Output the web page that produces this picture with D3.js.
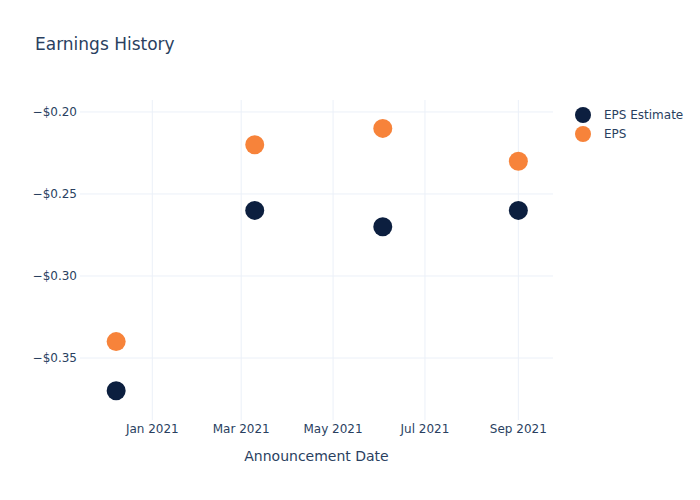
<!DOCTYPE html>
<html><head><meta charset="utf-8">
<script src="https://cdn.jsdelivr.net/npm/d3@7"></script>
<style>body{margin:0;background:#fff}svg{font-family:"DejaVu Sans",Verdana,sans-serif}</style>
</head><body><svg id="c" width="700" height="500"></svg>
<script>
const dates = ["2020-12-08","2021-03-10","2021-06-03","2021-09-01"];
const epsEstimate = [-0.37,-0.26,-0.27,-0.26];
const eps = [-0.34,-0.22,-0.21,-0.23];
const yTicks = [-0.20,-0.25,-0.30,-0.35];
const xTicks = ["2021-01-01","2021-03-01","2021-05-01","2021-07-01","2021-09-01"];
const seriesNames = ["EPS Estimate","EPS"];
const colors = ["#0c1f3f","#f7833a"];

const parse = d3.utcParse("%Y-%m-%d");
const svg = d3.select("#c");
const L=80,R=553,T=100,B=420;
const x = d3.scaleUtc().domain([parse("2020-11-14"),parse("2021-09-24")]).range([L,R]);
const y = d3.scaleLinear().domain([-0.3878,-0.1927]).range([B,T]);
const txt="#2a3f5f", grid="#ebf0f8";

const g = svg.append("g");
g.selectAll(".xg").data(xTicks).join("line").attr("x1",d=>x(parse(d))).attr("x2",d=>x(parse(d)))
 .attr("y1",T).attr("y2",B).attr("stroke",grid).attr("stroke-width",1);
g.selectAll(".yg").data(yTicks).join("line").attr("x1",L).attr("x2",R)
 .attr("y1",d=>y(d)).attr("y2",d=>y(d)).attr("stroke",grid).attr("stroke-width",1);

const fmtY = d => "\u2212$" + Math.abs(d).toFixed(2);
g.selectAll(".yl").data(yTicks).join("text").attr("x",L-3).attr("y",d=>y(d)+4)
 .attr("text-anchor","end").attr("font-size",12).attr("fill",txt).text(fmtY);
const fmtX = d3.utcFormat("%b %Y");
g.selectAll(".xl").data(xTicks).join("text").attr("x",d=>x(parse(d))).attr("y",433)
 .attr("text-anchor","middle").attr("font-size",12).attr("fill",txt).text(d=>fmtX(parse(d)));

svg.append("text").attr("x",(L+R)/2).attr("y",461).attr("text-anchor","middle")
 .attr("font-size",14).attr("fill",txt).text("Announcement Date");
svg.append("text").attr("x",35).attr("y",50).attr("font-size",17).attr("fill",txt).text("Earnings History");

[epsEstimate, eps].forEach((vals,i)=>{
  svg.append("g").selectAll("circle").data(vals).join("circle")
   .attr("cx",(d,j)=>x(parse(dates[j]))).attr("cy",d=>y(d)).attr("r",9.5)
   .attr("fill",colors[i]);
});

const lg = svg.append("g");
seriesNames.forEach((n,i)=>{
  lg.append("circle").attr("cx",583).attr("cy",115+i*19).attr("r",8).attr("fill",colors[i]);
  lg.append("text").attr("x",604).attr("y",119+i*19).attr("font-size",12).attr("fill",txt).text(n);
});
</script></body></html>
